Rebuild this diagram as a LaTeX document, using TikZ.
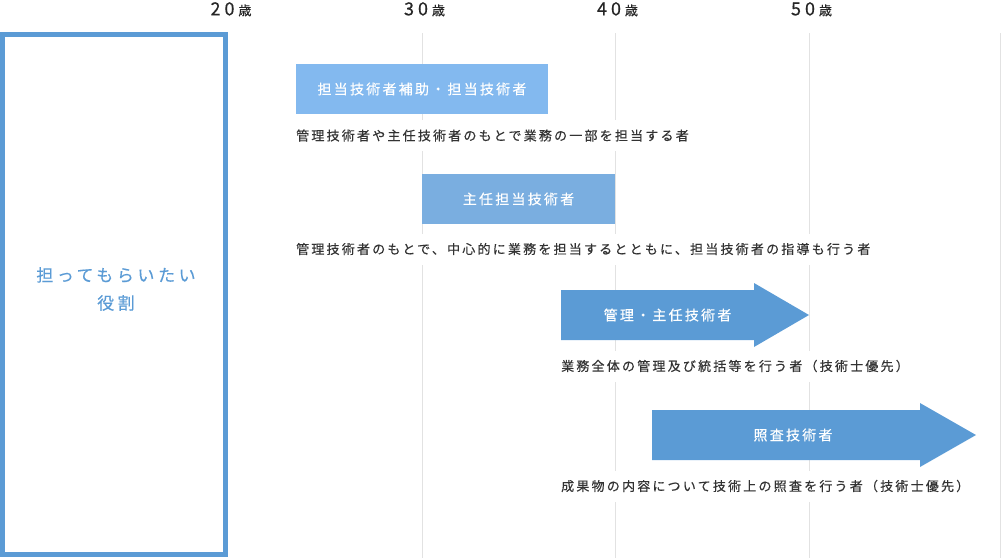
\documentclass[tikz,border=0pt]{standalone}
\usepackage{fontspec}
\newfontfamily\jpdesc[LetterSpace=17,FakeBold=0.35]{Noto Sans CJK JP}
\newfontfamily\jprole[LetterSpace=16,FakeBold=0.35]{Noto Sans CJK JP}
\newfontfamily\jptitle[LetterSpace=21,FakeBold=0.3]{Noto Sans CJK JP}
\newfontfamily\jpage[LetterSpace=22,FakeBold=0.4]{Noto Sans CJK JP}
\definecolor{mainblue}{HTML}{5B9BD5}
\definecolor{lightblue}{HTML}{83B9EF}
\definecolor{midblue}{HTML}{7AAEE0}
\definecolor{gridgray}{HTML}{E2E2E2}
\definecolor{textgray}{HTML}{333333}
\newcommand\agelabel[1]{#1\hspace{4pt}{\fontsize{13}{13}\selectfont 歳}}
\begin{document}
\begin{tikzpicture}[x=1pt,y=-1pt,every node/.style={inner sep=0pt},
  grid/.style={gridgray,line width=1pt},
  role/.style={fill=#1,text=white,minimum height=50pt,font=\jprole\fontsize{14}{14}\selectfont},
  desc/.style={fill=white,anchor=west,text=textgray,minimum height=31pt,font=\jpdesc\fontsize{13}{13}\selectfont},
  age/.style={anchor=base,text=black!85,font=\jpage\fontsize{18}{18}\selectfont},
  arr/.style={fill=mainblue}]
\useasboundingbox (0,0) rectangle (1001,558);
% age scale
\foreach \x in {422,615,809,1000.5} \draw[grid] (\x,33)--(\x,558);
\node[age] (a20) at (231,15.3){\agelabel{20}};
\node[age] (a30) at (424.5,15.3){\agelabel{30}};
\node[age] (a40) at (617.5,15.3){\agelabel{40}};
\node[age] (a50) at (811.5,15.3){\agelabel{50}};
% left frame
\draw[mainblue,line width=5pt] (2.5,34.7) rectangle (225.2,554.2);
\node[align=center,text=mainblue,font=\jptitle\fontsize{17}{28}\selectfont] (title) at (116,289){担ってもらいたい\\役割};
% roles
\node[role=lightblue,minimum width=252pt] (r1) at (422,89){担当技術者補助・担当技術者};
\node[desc] (d1) at (296,135.5){管理技術者や主任技術者のもとで業務の一部を担当する者};
\node[role=midblue,minimum width=193pt] (r2) at (518.5,199){主任担当技術者};
\node[desc] (d2) at (296,249){管理技術者のもとで、中心的に業務を担当するとともに、担当技術者の指導も行う者};
\fill[arr] (561,290)--(754,290)--(754,283)--(809,315)--(754,347)--(754,340)--(561,340)--cycle;
\node[text=white,font=\jprole\fontsize{14}{14}\selectfont] (r3) at (667.5,315){管理・主任技術者};
\node[desc] (d3) at (561,366){業務全体の管理及び統括等を行う者（技術士優先）};
\fill[arr] (652,410)--(920,410)--(920,403)--(976,435)--(920,467)--(920,460)--(652,460)--cycle;
\node[text=white,font=\jprole\fontsize{14}{14}\selectfont] (r4) at (793,435){照査技術者};
\node[desc] (d4) at (561,486){成果物の内容について技術上の照査を行う者（技術士優先）};
\end{tikzpicture}
\end{document}
